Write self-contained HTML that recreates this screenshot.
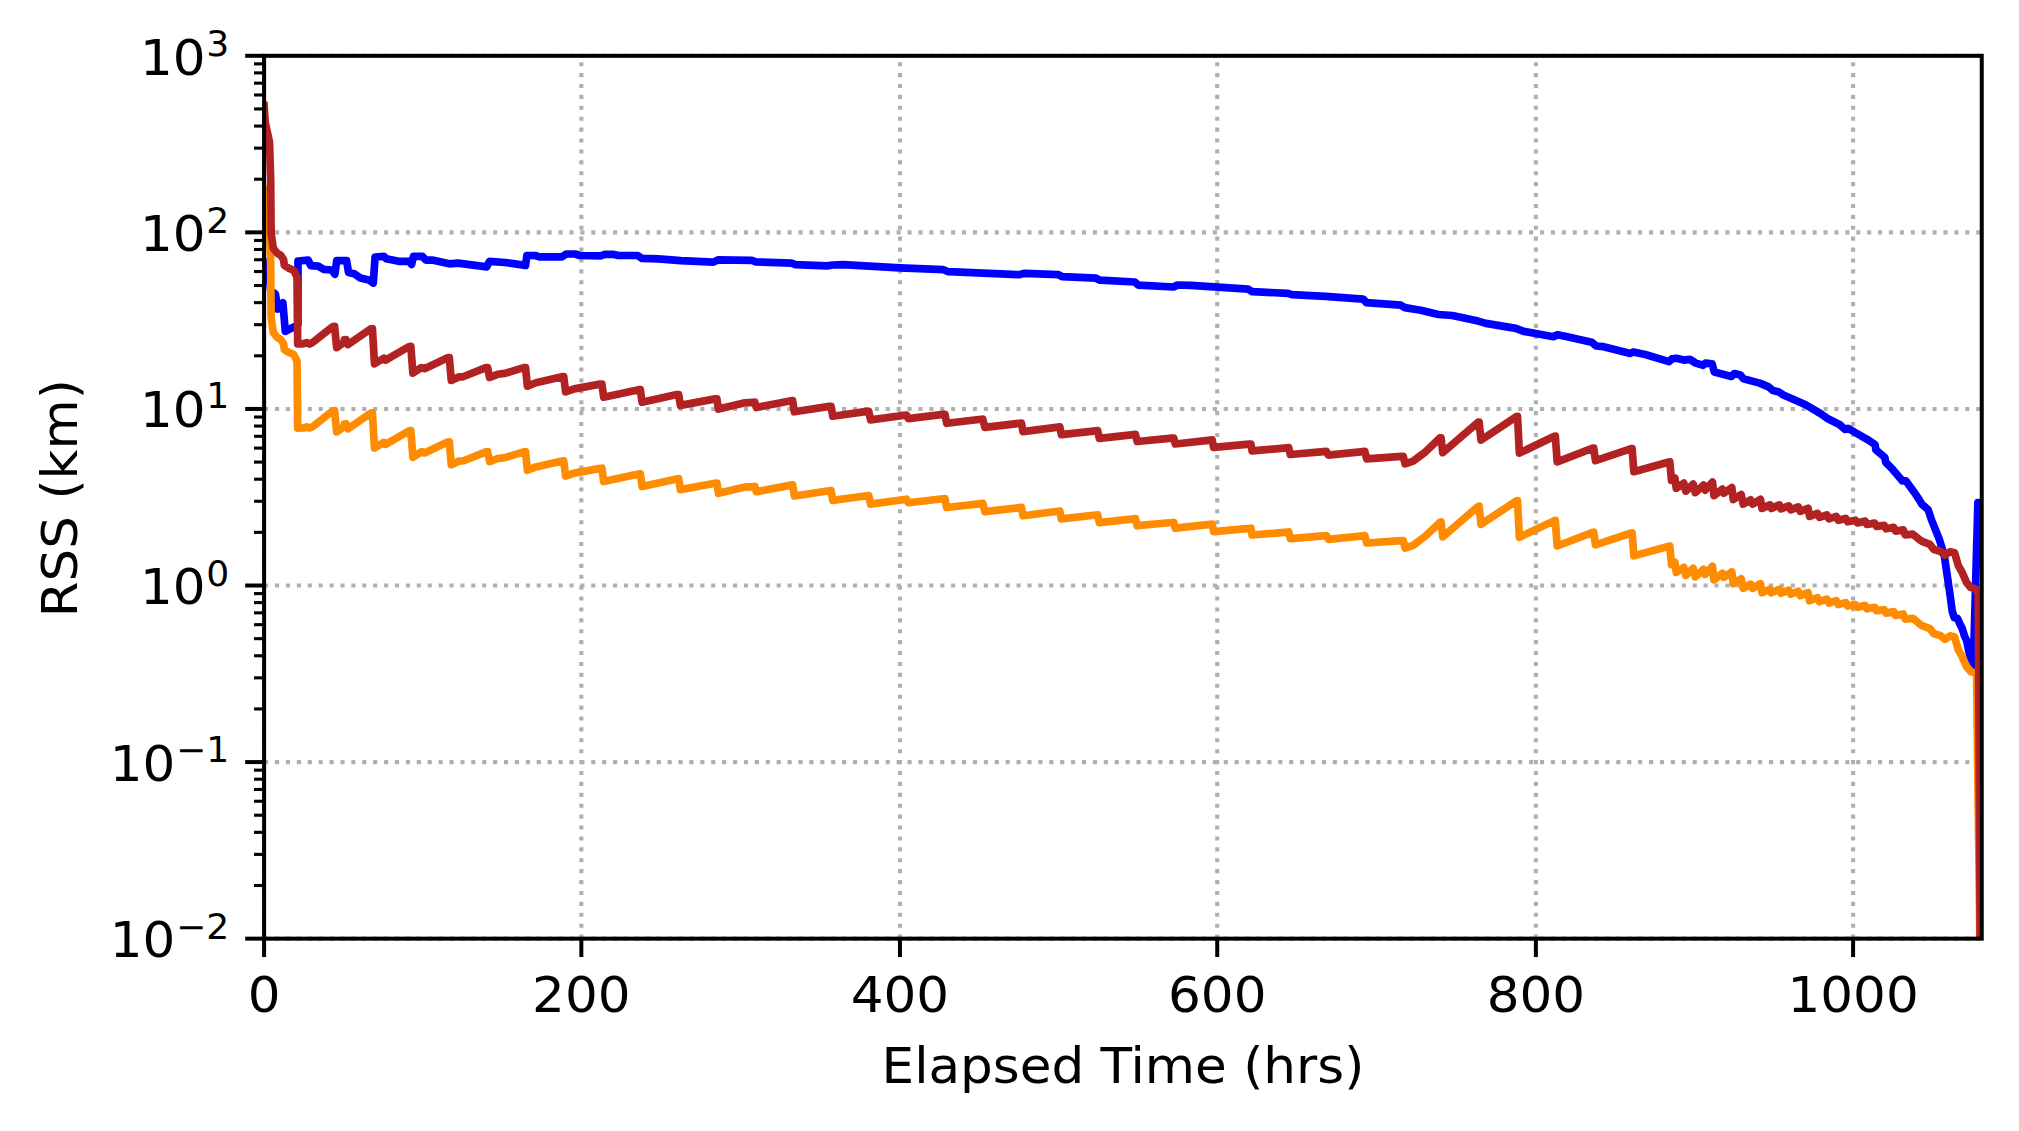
<!DOCTYPE html>
<html lang="en"><head><meta charset="utf-8"><title>RSS (km) vs Elapsed Time (hrs)</title>
<style>html,body{margin:0;padding:0;background:#fff;}body{width:2019px;height:1131px;overflow:hidden;}svg{display:block;}text{font-family:"DejaVu Sans","Liberation Sans",sans-serif;fill:#000;}</style></head><body>
<svg width="2019" height="1131" viewBox="0 0 2019 1131">
<rect x="0" y="0" width="2019" height="1131" fill="#fff"/>
<defs><clipPath id="ax"><rect x="264.09" y="55.80" width="1717.66" height="882.85"/></clipPath></defs>
<g stroke="#b0b0b0" stroke-width="4.13" stroke-dasharray="4.115 6.79" fill="none">
<path d="M264.09 938.65 V55.80"/>
<path d="M581.34 938.65 V55.80"/>
<path d="M899.94 938.65 V55.80"/>
<path d="M1217.23 938.65 V55.80"/>
<path d="M1535.87 938.65 V55.80"/>
<path d="M1853.09 938.65 V55.80"/>
<path d="M264.09 55.80 H1981.75"/>
<path d="M264.09 232.37 H1981.75"/>
<path d="M264.09 408.94 H1981.75"/>
<path d="M264.09 585.51 H1981.75"/>
<path d="M264.09 762.08 H1981.75"/>
<path d="M264.09 938.65 H1981.75"/>
</g>
<g clip-path="url(#ax)" fill="none" stroke-width="7.70" stroke-linejoin="round" stroke-linecap="square">
<path stroke="#0000ff" d="M268.0 262.0 L270.5 290.0 L275.4 294.1 L277.9 309.0 L282.9 302.8 L285.3 331.3 L297.9 325.0 L298.0 261.0 L308.2 260.1 L310.7 265.6 L318.2 266.2 L323.7 269.3 L331.8 270.0 L334.9 274.3 L336.7 260.7 L346.6 260.7 L348.5 272.4 L354.1 273.7 L360.3 278.0 L368.9 279.9 L373.3 283.0 L375.1 257.0 L383.8 256.3 L386.3 258.8 L398.6 261.3 L409.2 261.3 L411.6 264.4 L413.5 256.3 L422.2 256.3 L425.9 260.1 L432.1 260.1 L449.4 263.8 L458.1 263.1 L486.6 266.9 L489.6 261.3 L505.0 262.5 L525.5 265.4 L526.9 255.5 L535.1 255.5 L539.6 256.9 L561.9 256.9 L566.3 254.0 L575.2 254.0 L579.7 255.5 L600.5 255.9 L605.0 254.4 L613.9 254.4 L618.3 255.5 L637.6 255.5 L642.1 258.4 L658.4 258.9 L680.7 260.7 L713.4 262.1 L717.9 259.9 L751.9 260.4 L755.8 261.8 L791.5 263.1 L795.5 264.6 L827.2 265.9 L832.7 265.0 L843.0 264.7 L899.9 267.9 L943.5 269.7 L948.4 271.7 L1018.8 274.7 L1024.7 273.3 L1058.4 274.7 L1062.4 276.7 L1096.0 278.2 L1100.0 280.2 L1134.7 282.0 L1138.6 285.2 L1173.5 287.0 L1177.5 285.0 L1190.8 285.4 L1248.3 289.2 L1252.3 291.7 L1287.9 293.3 L1291.9 294.7 L1325.6 296.3 L1363.2 299.1 L1366.2 302.6 L1400.9 305.2 L1404.8 307.6 L1420.7 310.2 L1438.5 314.5 L1452.4 315.5 L1478.1 321.1 L1486.0 323.4 L1515.8 328.4 L1523.7 331.4 L1553.4 336.7 L1557.4 334.7 L1565.0 336.3 L1591.7 342.3 L1596.2 346.0 L1603.6 346.7 L1630.4 353.4 L1633.4 351.9 L1645.2 354.5 L1669.0 361.6 L1672.0 358.9 L1676.4 358.3 L1683.9 360.1 L1689.8 359.4 L1695.8 363.1 L1703.2 365.3 L1705.4 363.1 L1712.1 363.8 L1714.3 372.0 L1731.4 376.5 L1734.4 373.5 L1740.3 375.0 L1743.3 378.7 L1759.7 383.1 L1768.6 386.9 L1773.0 390.6 L1779.0 392.1 L1783.4 395.0 L1805.7 404.7 L1820.6 413.6 L1828.0 418.8 L1839.9 424.8 L1845.0 429.4 L1848.1 428.3 L1855.6 432.7 L1867.1 439.3 L1875.1 444.6 L1875.9 449.9 L1884.8 457.4 L1885.7 462.3 L1892.7 469.4 L1902.5 480.9 L1906.0 480.9 L1914.0 491.9 L1919.3 499.9 L1921.9 504.3 L1928.1 509.6 L1931.5 519.8 L1939.4 539.7 L1944.3 555.6 L1949.9 593.7 L1952.2 611.0 L1954.3 617.8 L1957.4 618.3 L1960.1 624.4 L1962.0 627.8 L1964.5 635.9 L1966.6 640.5 L1968.5 649.7 L1970.5 657.7 L1973.3 666.8 L1977.9 502.6 L1984.0 502.6"/>
<path stroke="#ff8c00" d="M264.1 189.7 L265.2 206.2 L269.5 226.2 L270.7 264.2 L271.0 304.2 L271.2 318.3 L273.3 332.5 L277.2 337.4 L280.8 339.6 L283.6 343.8 L284.3 349.5 L288.5 352.3 L293.5 354.4 L297.0 360.8 L297.7 428.2 L302.7 428.0 L307.0 426.9 L309.5 428.2 L313.2 426.3 L332.9 410.8 L334.6 410.6 L336.7 431.9 L344.2 426.3 L344.3 424.0 L346.0 423.8 L347.9 428.8 L370.7 413.1 L372.4 412.9 L374.5 448.0 L383.8 442.4 L385.6 444.3 L409.1 430.8 L410.8 430.6 L412.9 457.3 L421.5 451.7 L424.6 452.9 L447.6 442.0 L449.3 441.8 L451.3 464.7 L459.3 461.0 L463.0 461.0 L485.9 451.9 L487.6 451.7 L489.6 461.6 L497.7 458.5 L505.0 457.6 L523.8 451.9 L525.5 451.7 L527.4 470.3 L535.9 466.9 L562.0 461.0 L563.7 460.8 L565.6 476.0 L574.2 473.1 L600.2 468.4 L601.9 468.2 L603.7 481.4 L638.6 474.0 L640.3 473.8 L642.1 486.4 L676.9 478.9 L678.6 478.7 L680.4 489.6 L715.2 483.2 L716.9 483.0 L718.5 493.3 L745.0 487.0 L753.1 486.6 L754.8 486.4 L756.3 491.7 L790.9 485.1 L792.6 484.9 L794.4 496.0 L829.3 490.7 L831.0 490.5 L832.8 500.4 L867.0 495.7 L868.7 495.5 L870.6 504.1 L906.5 499.2 L908.4 502.8 L943.2 498.7 L944.9 498.5 L946.7 507.5 L981.1 503.6 L982.8 503.4 L984.9 511.6 L1019.7 507.6 L1021.4 507.4 L1023.0 515.8 L1058.1 511.3 L1059.8 511.1 L1061.4 518.9 L1095.9 515.0 L1097.6 514.8 L1099.4 522.6 L1133.7 518.8 L1135.4 518.6 L1137.2 525.7 L1172.0 522.5 L1173.7 522.3 L1175.3 528.2 L1210.4 524.3 L1212.1 524.1 L1213.7 531.6 L1249.2 528.4 L1250.9 528.2 L1252.1 535.0 L1287.0 532.1 L1288.7 531.9 L1290.3 538.7 L1326.4 535.6 L1328.3 539.3 L1363.1 535.8 L1364.8 535.6 L1366.7 543.0 L1401.5 540.7 L1403.2 540.5 L1405.1 548.0 L1413.1 545.3 L1425.5 536.0 L1440.1 522.2 L1441.0 522.0 L1442.8 536.9 L1478.2 506.4 L1479.1 506.2 L1481.0 524.3 L1516.6 500.8 L1517.5 500.6 L1519.4 537.3 L1554.4 520.6 L1555.3 520.4 L1557.2 546.0 L1592.8 532.4 L1593.7 532.2 L1595.5 544.8 L1631.2 533.0 L1632.1 532.8 L1633.9 555.9 L1668.9 546.3 L1669.8 546.1 L1671.5 564.7 L1674.9 562.4 L1676.3 572.4 L1683.8 567.4 L1685.8 575.4 L1693.2 568.4 L1695.2 576.9 L1703.6 569.4 L1705.1 574.4 L1712.5 566.4 L1714.0 579.9 L1722.4 573.3 L1723.9 577.4 L1731.8 571.8 L1733.3 583.8 L1741.2 578.8 L1743.2 588.3 L1750.6 584.2 L1752.6 588.3 L1760.5 583.7 L1762.0 592.7 L1770.0 589.2 L1771.4 592.7 L1779.4 589.2 L1781.0 593.2 L1788.8 590.2 L1790.8 594.2 L1798.2 591.2 L1800.2 595.7 L1808.1 592.6 L1809.6 600.7 L1817.5 597.6 L1819.5 601.7 L1826.9 599.1 L1828.9 603.1 L1836.3 600.6 L1838.3 604.6 L1845.7 602.6 L1847.7 606.1 L1855.5 604.5 L1857.5 607.2 L1865.1 605.3 L1867.0 608.8 L1874.6 607.3 L1876.6 610.7 L1884.2 609.6 L1886.1 613.1 L1893.7 611.6 L1895.7 615.5 L1903.2 614.0 L1905.2 619.1 L1912.8 618.3 L1919.6 623.9 L1922.7 625.9 L1929.9 628.6 L1933.9 633.8 L1940.2 635.4 L1945.0 639.4 L1950.2 635.8 L1954.6 637.0 L1958.3 649.9 L1962.2 656.7 L1966.5 666.6 L1970.7 671.6 L1975.3 673.0 L1976.6 675.5 L1980.0 950.0"/>
<path stroke="#b22222" d="M264.1 105.5 L265.2 122.0 L269.5 142.0 L270.7 180.0 L271.0 220.0 L271.2 234.1 L273.3 248.3 L277.2 253.2 L280.8 255.4 L283.6 259.6 L284.3 265.3 L288.5 268.1 L293.5 270.2 L297.0 276.6 L297.7 344.0 L302.7 343.8 L307.0 342.7 L309.5 344.0 L313.2 342.1 L332.9 326.5 L334.6 326.4 L336.7 347.7 L344.2 342.1 L344.3 339.8 L346.0 339.6 L347.9 344.6 L370.7 328.8 L372.4 328.7 L374.5 363.8 L383.8 358.2 L385.6 360.1 L409.1 346.5 L410.8 346.4 L412.9 373.1 L421.5 367.5 L424.6 368.7 L447.6 357.8 L449.3 357.6 L451.3 380.5 L459.3 376.8 L463.0 376.8 L485.9 367.6 L487.6 367.5 L489.6 377.4 L497.7 374.3 L505.0 373.4 L523.8 367.6 L525.5 367.5 L527.4 386.1 L535.9 382.7 L562.0 376.7 L563.7 376.6 L565.6 391.8 L574.2 388.9 L600.2 384.1 L601.9 384.0 L603.7 397.2 L638.6 389.7 L640.3 389.6 L642.1 402.2 L676.9 394.6 L678.6 394.5 L680.4 405.4 L715.2 398.9 L716.9 398.8 L718.5 409.1 L745.0 402.8 L753.1 402.3 L754.8 402.2 L756.3 407.5 L790.9 400.8 L792.6 400.7 L794.4 411.8 L829.3 406.4 L831.0 406.3 L832.8 416.2 L867.0 411.4 L868.7 411.3 L870.6 419.9 L906.5 415.0 L908.4 418.6 L943.2 414.4 L944.9 414.3 L946.7 423.3 L981.1 419.3 L982.8 419.2 L984.9 427.4 L1019.7 423.3 L1021.4 423.2 L1023.0 431.6 L1058.1 427.1 L1059.8 426.9 L1061.4 434.7 L1095.9 430.8 L1097.6 430.6 L1099.4 438.4 L1133.7 434.6 L1135.4 434.4 L1137.2 441.5 L1172.0 438.2 L1173.7 438.1 L1175.3 444.0 L1210.4 440.1 L1212.1 439.9 L1213.7 447.4 L1249.2 444.1 L1250.9 444.0 L1252.1 450.8 L1287.0 447.8 L1288.7 447.7 L1290.3 454.5 L1326.4 451.4 L1328.3 455.1 L1363.1 451.6 L1364.8 451.4 L1366.7 458.8 L1401.5 456.4 L1403.2 456.3 L1405.1 463.8 L1413.1 461.1 L1425.5 451.8 L1440.1 437.9 L1441.0 437.8 L1442.8 452.7 L1478.2 422.1 L1479.1 422.0 L1481.0 440.1 L1516.6 416.5 L1517.5 416.4 L1519.4 453.1 L1554.4 436.3 L1555.3 436.2 L1557.2 461.8 L1592.8 448.1 L1593.7 448.0 L1595.5 460.6 L1631.2 448.7 L1632.1 448.6 L1633.9 471.7 L1668.9 462.0 L1669.8 461.9 L1671.5 480.5 L1674.9 478.1 L1676.3 488.2 L1683.8 483.1 L1685.8 491.2 L1693.2 484.1 L1695.2 492.7 L1703.6 485.1 L1705.1 490.2 L1712.5 482.1 L1714.0 495.7 L1722.4 489.1 L1723.9 493.2 L1731.8 487.6 L1733.3 499.6 L1741.2 494.6 L1743.2 504.1 L1750.6 499.9 L1752.6 504.1 L1760.5 499.4 L1762.0 508.4 L1770.0 504.9 L1771.4 508.4 L1779.4 504.9 L1781.0 508.9 L1788.8 505.9 L1790.8 509.9 L1798.2 506.9 L1800.2 511.4 L1808.1 508.3 L1809.6 516.4 L1817.5 513.4 L1819.5 517.4 L1826.9 514.9 L1828.9 518.8 L1836.3 516.4 L1838.3 520.3 L1845.7 518.4 L1847.7 521.8 L1855.5 520.2 L1857.5 522.9 L1865.1 521.1 L1867.0 524.5 L1874.6 523.1 L1876.6 526.4 L1884.2 525.4 L1886.1 528.8 L1893.7 527.4 L1895.7 531.2 L1903.2 529.8 L1905.2 534.8 L1912.8 534.1 L1919.6 539.7 L1922.7 541.7 L1929.9 544.4 L1933.9 549.6 L1940.2 551.2 L1945.0 555.2 L1950.2 551.6 L1954.6 552.8 L1958.3 565.7 L1962.2 572.5 L1966.5 582.4 L1970.7 587.4 L1975.3 588.8 L1978.2 593.7 L1980.3 950.0"/>
</g>
<g stroke="#000" stroke-width="4.00" fill="none">
<path d="M264.09 938.65 v18.40"/>
<path d="M581.34 938.65 v18.40"/>
<path d="M899.94 938.65 v18.40"/>
<path d="M1217.23 938.65 v18.40"/>
<path d="M1535.87 938.65 v18.40"/>
<path d="M1853.09 938.65 v18.40"/>
<path d="M264.09 55.80 h-18.90"/>
<path d="M264.09 232.37 h-18.90"/>
<path d="M264.09 408.94 h-18.90"/>
<path d="M264.09 585.51 h-18.90"/>
<path d="M264.09 762.08 h-18.90"/>
<path d="M264.09 938.65 h-18.90"/>
</g>
<g stroke="#000" stroke-width="3.10" fill="none">
<path d="M264.09 179.22 h-10.05"/>
<path d="M264.09 148.12 h-10.05"/>
<path d="M264.09 126.06 h-10.05"/>
<path d="M264.09 108.95 h-10.05"/>
<path d="M264.09 94.97 h-10.05"/>
<path d="M264.09 83.15 h-10.05"/>
<path d="M264.09 72.91 h-10.05"/>
<path d="M264.09 63.88 h-10.05"/>
<path d="M264.09 355.79 h-10.05"/>
<path d="M264.09 324.69 h-10.05"/>
<path d="M264.09 302.63 h-10.05"/>
<path d="M264.09 285.52 h-10.05"/>
<path d="M264.09 271.54 h-10.05"/>
<path d="M264.09 259.72 h-10.05"/>
<path d="M264.09 249.48 h-10.05"/>
<path d="M264.09 240.45 h-10.05"/>
<path d="M264.09 532.36 h-10.05"/>
<path d="M264.09 501.26 h-10.05"/>
<path d="M264.09 479.20 h-10.05"/>
<path d="M264.09 462.09 h-10.05"/>
<path d="M264.09 448.11 h-10.05"/>
<path d="M264.09 436.29 h-10.05"/>
<path d="M264.09 426.05 h-10.05"/>
<path d="M264.09 417.02 h-10.05"/>
<path d="M264.09 708.93 h-10.05"/>
<path d="M264.09 677.83 h-10.05"/>
<path d="M264.09 655.77 h-10.05"/>
<path d="M264.09 638.66 h-10.05"/>
<path d="M264.09 624.68 h-10.05"/>
<path d="M264.09 612.86 h-10.05"/>
<path d="M264.09 602.62 h-10.05"/>
<path d="M264.09 593.59 h-10.05"/>
<path d="M264.09 885.50 h-10.05"/>
<path d="M264.09 854.40 h-10.05"/>
<path d="M264.09 832.34 h-10.05"/>
<path d="M264.09 815.23 h-10.05"/>
<path d="M264.09 801.25 h-10.05"/>
<path d="M264.09 789.43 h-10.05"/>
<path d="M264.09 779.19 h-10.05"/>
<path d="M264.09 770.16 h-10.05"/>
</g>
<rect x="264.09" y="55.80" width="1717.66" height="882.85" fill="none" stroke="#000" stroke-width="4.00" stroke-linejoin="miter"/>
<text transform="translate(264.09 1012.2) scale(1.026 1)" font-size="50.3" text-anchor="middle">0</text>
<text transform="translate(581.34 1012.2) scale(1.026 1)" font-size="50.3" text-anchor="middle">200</text>
<text transform="translate(899.94 1012.2) scale(1.026 1)" font-size="50.3" text-anchor="middle">400</text>
<text transform="translate(1217.23 1012.2) scale(1.026 1)" font-size="50.3" text-anchor="middle">600</text>
<text transform="translate(1535.87 1012.2) scale(1.026 1)" font-size="50.3" text-anchor="middle">800</text>
<text transform="translate(1853.09 1012.2) scale(1.026 1)" font-size="50.3" text-anchor="middle">1000</text>
<text transform="translate(229.2 74.60) scale(1.026 1)" font-size="50.3" text-anchor="end">10<tspan dx="0.6" dy="-18.4" font-size="35.2">3</tspan></text>
<text transform="translate(229.2 251.17) scale(1.026 1)" font-size="50.3" text-anchor="end">10<tspan dx="0.6" dy="-18.4" font-size="35.2">2</tspan></text>
<text transform="translate(229.2 426.84) scale(1.026 1)" font-size="50.3" text-anchor="end">10<tspan dx="0.6" dy="-18.4" font-size="35.2">1</tspan></text>
<text transform="translate(229.2 604.31) scale(1.026 1)" font-size="50.3" text-anchor="end">10<tspan dx="0.6" dy="-18.4" font-size="35.2">0</tspan></text>
<text transform="translate(229.2 780.88) scale(1.026 1)" font-size="50.3" text-anchor="end">10<tspan dx="0.6" dy="-18.4" font-size="35.2">−1</tspan></text>
<text transform="translate(229.2 957.45) scale(1.026 1)" font-size="50.3" text-anchor="end">10<tspan dx="0.6" dy="-18.4" font-size="35.2">−2</tspan></text>
<text transform="translate(1122.92 1082.5) scale(1.026 1)" font-size="50.3" text-anchor="middle">Elapsed Time (hrs)</text>
<text transform="translate(77.4 498.22) rotate(-90) scale(1.026 1)" font-size="50.3" text-anchor="middle">RSS (km)</text>
</svg></body></html>
